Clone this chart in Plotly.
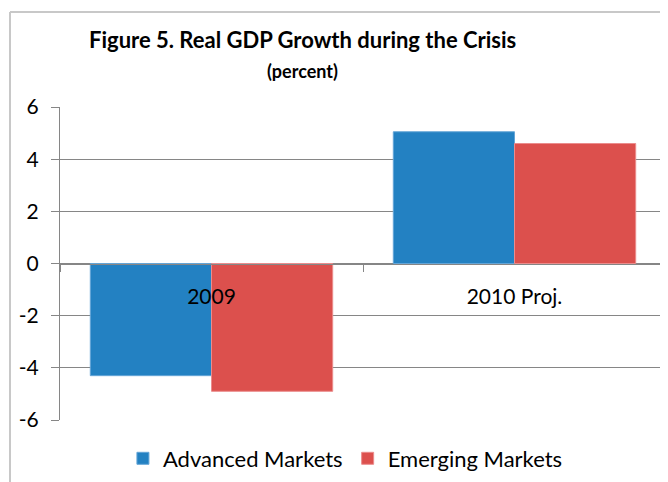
import plotly.graph_objects as go

categories = ['2009', '2010 Proj.']
advanced = [-4.3, 5.05]
emerging = [-4.9, 4.6]
y_ticks = [-6, -4, -2, 0, 2, 4, 6]
y_tick_labels = ['-6', '-4', '-2', '0', '2', '4', '6']

FONT = 'Lato'
BLUE = 'rgb(35, 129, 194)'
RED = 'rgb(220, 80, 77)'
GRID = 'rgb(134, 134, 134)'

fig = go.Figure()

fig.add_trace(go.Bar(
    name='Advanced Markets',
    x=categories,
    y=advanced,
    marker=dict(color=BLUE, line=dict(color='rgb(100, 165, 215)', width=1)),
))
fig.add_trace(go.Bar(
    name='Emerging Markets',
    x=categories,
    y=emerging,
    marker=dict(color=RED, line=dict(color='rgb(235, 140, 140)', width=1)),
))

# outer chart frame (cut off at right/bottom like the reference)
fig.add_shape(type='line', xref='paper', yref='paper',
              x0=-0.0825, x1=-0.0825, y0=-0.2, y1=1.3038,
              line=dict(color='rgb(200, 200, 200)', width=2))
fig.add_shape(type='line', xref='paper', yref='paper',
              x0=-0.0825, x1=1.1, y0=1.3038, y1=1.3038,
              line=dict(color='rgb(200, 200, 200)', width=2))

fig.add_annotation(
    text='<b>Figure 5. Real GDP Growth during the Crisis</b>',
    xref='paper', yref='paper', x=0.4, y=1.216,
    xanchor='center', yanchor='middle',
    showarrow=False, font=dict(family=FONT, size=22, color='black'),
)
fig.add_annotation(
    text='<b>(percent)</b>',
    xref='paper', yref='paper', x=0.4, y=1.114,
    xanchor='center', yanchor='middle',
    showarrow=False, font=dict(family=FONT, size=18, color='black'),
)

fig.update_layout(
    width=660,
    height=474,
    margin=dict(l=52, r=2, t=99, b=59),
    plot_bgcolor='white',
    paper_bgcolor='white',
    barmode='group',
    bargap=0.2,
    bargroupgap=0,
    font=dict(family=FONT, size=21, color='black'),
    showlegend=True,
    legend=dict(
        orientation='h',
        x=0.471, xanchor='center',
        y=-0.123, yanchor='middle',
        font=dict(family=FONT, size=22),
        itemwidth=30,
        traceorder='normal',
    ),
    xaxis=dict(
        anchor='free',
        position=0.5,
        showline=True,
        linecolor=GRID,
        linewidth=1,
        ticks='outside',
        tickson='boundaries',
        ticklen=7,
        tickcolor=GRID,
        showgrid=False,
        ticklabelstandoff=14,
        tickfont=dict(family=FONT, size=21),
    ),
    yaxis=dict(
        range=[-6, 6],
        tickvals=y_ticks,
        ticktext=y_tick_labels,
        showline=True,
        linecolor=GRID,
        linewidth=1,
        ticks='outside',
        ticklen=8,
        tickcolor=GRID,
        showgrid=True,
        gridcolor=GRID,
        gridwidth=1,
        zeroline=False,
        ticklabelstandoff=8,
        tickfont=dict(family=FONT, size=21),
    ),
)

fig.write_html('out.html')
